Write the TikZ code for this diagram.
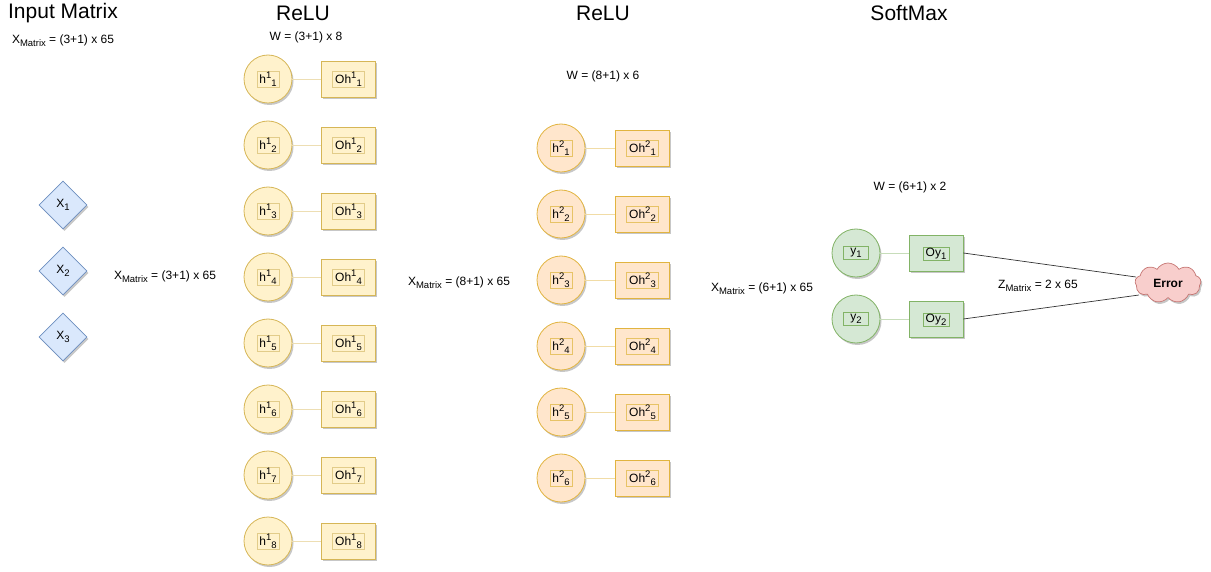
\documentclass[tikz,border=0pt]{standalone}
\usepackage{fontspec}
\setmainfont{Liberation Sans}
\usetikzlibrary{shapes.geometric,shapes.symbols,shadows}
\definecolor{yfill}{HTML}{FFF2CC}\definecolor{ystroke}{HTML}{D6B656}
\definecolor{ofill}{HTML}{FFE6CC}\definecolor{ostroke}{HTML}{D79B00}
\definecolor{gfill}{HTML}{D5E8D4}\definecolor{gstroke}{HTML}{82B366}
\definecolor{bfill}{HTML}{DAE8FC}\definecolor{bstroke}{HTML}{6C8EBF}
\definecolor{rfill}{HTML}{F8CECC}\definecolor{rstroke}{HTML}{B85450}
\newcommand{\mysup}[1]{\raisebox{0.42em}{\fontsize{9.5}{10}\selectfont #1}}
\newcommand{\mysub}[1]{\raisebox{-0.28em}{\fontsize{9.5}{10}\selectfont #1}}
\tikzset{
  shad/.style={drop shadow={shadow xshift=1.5pt,shadow yshift=-2pt,opacity=0.22,fill=black}},
  txt/.style={font=\fontsize{12}{14}\selectfont, inner sep=0pt},
  ttl/.style={font=\fontsize{21}{24}\selectfont, inner sep=0pt},
  circbase/.style={circle, minimum size=48pt, inner sep=0pt, line width=0.8pt, shad},
  rectbase/.style={rectangle, minimum width=54pt, minimum height=36pt, inner sep=0pt, line width=0.8pt, shad},
  labbase/.style={rectangle, inner xsep=2.5pt, inner ysep=0.5pt, minimum height=13pt, line width=0.5pt, font=\fontsize{12}{14}\selectfont},
  ycirc/.style={circbase, fill=yfill, draw=ystroke},
  yrect/.style={rectbase, fill=yfill, draw=ystroke},
  ylab/.style={labbase, draw=ystroke!70},
  ylink/.style={draw=ystroke!45, line width=0.8pt},
  ocirc/.style={circbase, fill=ofill, draw=ostroke!75},
  orect/.style={rectbase, fill=ofill, draw=ostroke!75},
  olab/.style={labbase, draw=ostroke!60},
  olink/.style={draw=ostroke!35, line width=0.8pt},
  gcirc/.style={circbase, fill=gfill, draw=gstroke},
  grect/.style={rectbase, fill=gfill, draw=gstroke},
  glab/.style={labbase, draw=gstroke},
  glink/.style={draw=gstroke!45, line width=0.8pt},
  xdiam/.style={diamond, minimum width=48pt, minimum height=48pt, inner sep=0pt, fill=bfill, draw=bstroke, line width=0.8pt, shad, font=\fontsize{12}{14}\selectfont},
  errlink/.style={draw=black!80, line width=0.7pt}
}
\begin{document}
\begin{tikzpicture}[x=1pt,y=-1pt]
\useasboundingbox (0,0) rectangle (1211,572);

% titles
\node[ttl] (t1) at (63,13) {Input Matrix};
\node[ttl] (t2) at (303,13) {ReLU};
\node[ttl] (t3) at (603,13) {ReLU};
\node[ttl] (t4) at (909,13) {SoftMax};

% annotations
\node[txt] (a1) at (63,41) {X\mysub{Matrix} = (3+1) x 65};
\node[txt] (a2) at (306,37) {W = (3+1) x 8};
\node[txt] (a3) at (165,277) {X\mysub{Matrix} = (3+1) x 65};
\node[txt] (a4) at (603,76) {W = (8+1) x 6};
\node[txt] (a5) at (459,283) {X\mysub{Matrix} = (8+1) x 65};
\node[txt] (a6) at (762,289) {X\mysub{Matrix} = (6+1) x 65};
\node[txt] (a7) at (910,187) {W = (6+1) x 2};
\node[txt] (a8) at (1038,286) {Z\mysub{Matrix} = 2 x 65};

% inputs
\node[xdiam] (x1) at (63,205) {X\mysub{1}};
\node[xdiam] (x2) at (63,271) {X\mysub{2}};
\node[xdiam] (x3) at (63,337) {X\mysub{3}};

% layer 1
\foreach \i [evaluate=\i as \y using 79+66*(\i-1)] in {1,...,8} {
  \node[ycirc] (h1\i) at (268,\y) {};
  \node[yrect] (oh1\i) at (348.5,\y) {};
  \draw[ylink] (h1\i) -- (oh1\i);
  \node[ylab] (h1\i t) at (h1\i) {h\mysup{1}\mysub{\i}};
  \node[ylab] (oh1\i t) at (oh1\i) {Oh\mysup{1}\mysub{\i}};
}

% layer 2
\foreach \i [evaluate=\i as \y using 148+66*(\i-1)] in {1,...,6} {
  \node[ocirc] (h2\i) at (561,\y) {};
  \node[orect] (oh2\i) at (642.5,\y) {};
  \draw[olink] (h2\i) -- (oh2\i);
  \node[olab] (h2\i t) at (h2\i) {h\mysup{2}\mysub{\i}};
  \node[olab] (oh2\i t) at (oh2\i) {Oh\mysup{2}\mysub{\i}};
}

% output
\foreach \i [evaluate=\i as \y using 253+66*(\i-1)] in {1,2} {
  \node[gcirc] (y\i) at (856,\y) {};
  \node[grect] (oy\i) at (936,\y) {};
  \draw[glink] (y\i) -- (oy\i);
  \node[glab, minimum width=25pt] (y\i t) at (y\i) {y\mysub{\i}};
  \node[glab] (oy\i t) at ([yshift=-1pt]oy\i.center) {Oy\mysub{\i}};
}

% error
\node[cloud, cloud puffs=9, cloud puff arc=120, aspect=1.7, minimum width=66pt, minimum height=40pt, inner sep=0pt,
      fill=rfill, draw=rstroke!80, line width=0.7pt, shad, font=\bfseries\fontsize{12}{14}\selectfont] (err) at (1168,283) {Error};
\coordinate (e1) at (1136,277);
\coordinate (e2) at (1139,295);
\draw[errlink] (oy1.east) -- (e1);
\draw[errlink] (oy2.east) -- (e2);
\end{tikzpicture}
\end{document}
